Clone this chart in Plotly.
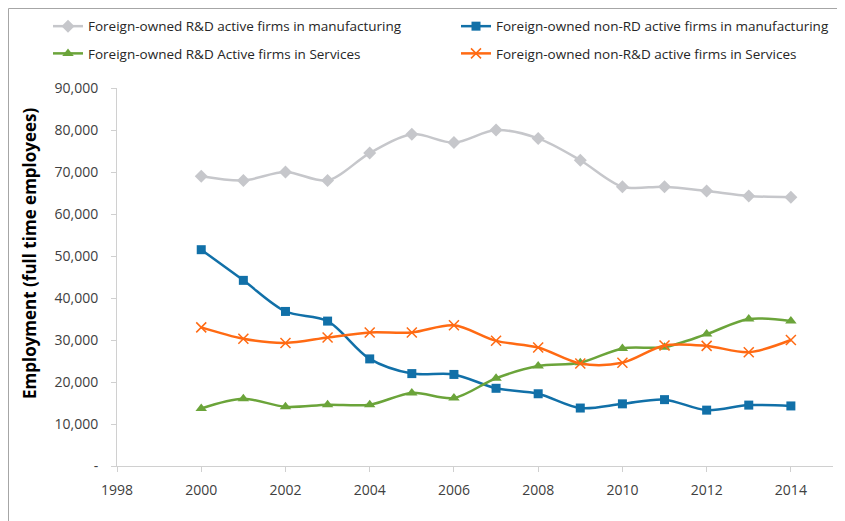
import plotly.graph_objects as go

years = list(range(2000, 2015))

rd_manuf = [69000, 68000, 70000, 68000, 74500, 79000, 77000, 80000, 78000,
            72800, 66500, 66500, 65500, 64300, 64000]
nonrd_manuf = [51500, 44200, 36800, 34500, 25500, 22000, 21800, 18500, 17200,
               13800, 14800, 15800, 13300, 14500, 14300]
rd_services = [13700, 16000, 14100, 14600, 14600, 17400, 16200, 20900, 23800,
               24600, 28000, 28300, 31400, 35000, 34500]
nonrd_services = [33000, 30300, 29300, 30600, 31800, 31800, 33500, 29800, 28200,
                  24400, 24600, 28700, 28600, 27100, 30000]

y_ticks = list(range(0, 90001, 10000))
y_ticktext = ["-" if v == 0 else f"{v:,}" for v in y_ticks]
x_ticks = list(range(1998, 2015, 2))

FONT = "Segoe UI, Open Sans, sans-serif"

series = [
    ("Foreign-owned R&D active firms in manufacturing", rd_manuf, "#c6c7cb",
     dict(symbol="diamond", size=10), "legend"),
    ("Foreign-owned non-RD active firms in manufacturing", nonrd_manuf, "#1170a8",
     dict(symbol="square", size=9), "legend"),
    ("Foreign-owned R&D Active firms in Services", rd_services, "#6ba43a",
     dict(symbol="triangle-up", size=10), "legend2"),
    ("Foreign-owned non-R&D active firms in Services", nonrd_services, "#ff6a13",
     dict(symbol="x-thin", size=10), "legend2"),
]

fig = go.Figure()
for name, vals, color, marker, leg in series:
    m = dict(color=color, **marker)
    if m["symbol"] == "x-thin":
        m["line"] = dict(width=1.5, color=color)
    fig.add_trace(go.Scatter(
        x=years, y=vals, name=name, mode="lines+markers",
        line=dict(color=color, width=2.5, shape="spline", smoothing=0.9),
        marker=m, legend=leg,
    ))

legend_common = dict(
    orientation="h", xanchor="left", yanchor="top",
    entrywidth=363, entrywidthmode="pixels", itemwidth=30,
    font=dict(family=FONT, size=13.5, color="#262626"),
    bgcolor="rgba(0,0,0,0)", traceorder="normal",
)

LEG_X = -69 / 716

fig.update_layout(
    width=845, height=521,
    margin=dict(l=109, r=20, t=80, b=63, autoexpand=False),
    paper_bgcolor="white", plot_bgcolor="white",
    font=dict(family=FONT, size=14, color="#404040"),
    legend=dict(x=LEG_X, y=1.204, **legend_common),
    legend2=dict(x=LEG_X, y=1.132, **legend_common),
    xaxis=dict(
        range=[1998, 2015], tickvals=x_ticks, showgrid=False, zeroline=False,
        showline=True, linecolor="#d0d0d0", linewidth=1, automargin=False,
        ticks="outside", ticklen=5, tickcolor="#d0d0d0", ticklabelstandoff=6,
        tickfont=dict(family=FONT, size=14, color="#404040"),
    ),
    yaxis=dict(
        range=[0, 90000], tickvals=y_ticks, ticktext=y_ticktext,
        showgrid=False, zeroline=False, automargin=False,
        showline=True, linecolor="#d0d0d0", linewidth=1,
        ticks="outside", ticklen=5, tickcolor="#d0d0d0", ticklabelstandoff=10,
        tickfont=dict(family=FONT, size=14, color="#404040"),
    ),
)

# y-axis title sits a little above the plot centre in the original
fig.add_annotation(
    text="<b>Employment (full time employees)</b>", textangle=-90,
    xref="paper", yref="paper", x=(29 - 117) / 716, y=(466 - 253) / 378,
    xanchor="center", yanchor="middle",
    showarrow=False, font=dict(family=FONT, size=17, color="#000000"),
)

# outer frame of the original report figure
fig.add_shape(type="rect", xref="paper", yref="paper",
              x0=-108.5 / 716, x1=1.2, y0=-0.3, y1=(458 - 0.5) / 378,
              line=dict(color="#a6a6a6", width=1), layer="below")

fig.write_html("out.html")
